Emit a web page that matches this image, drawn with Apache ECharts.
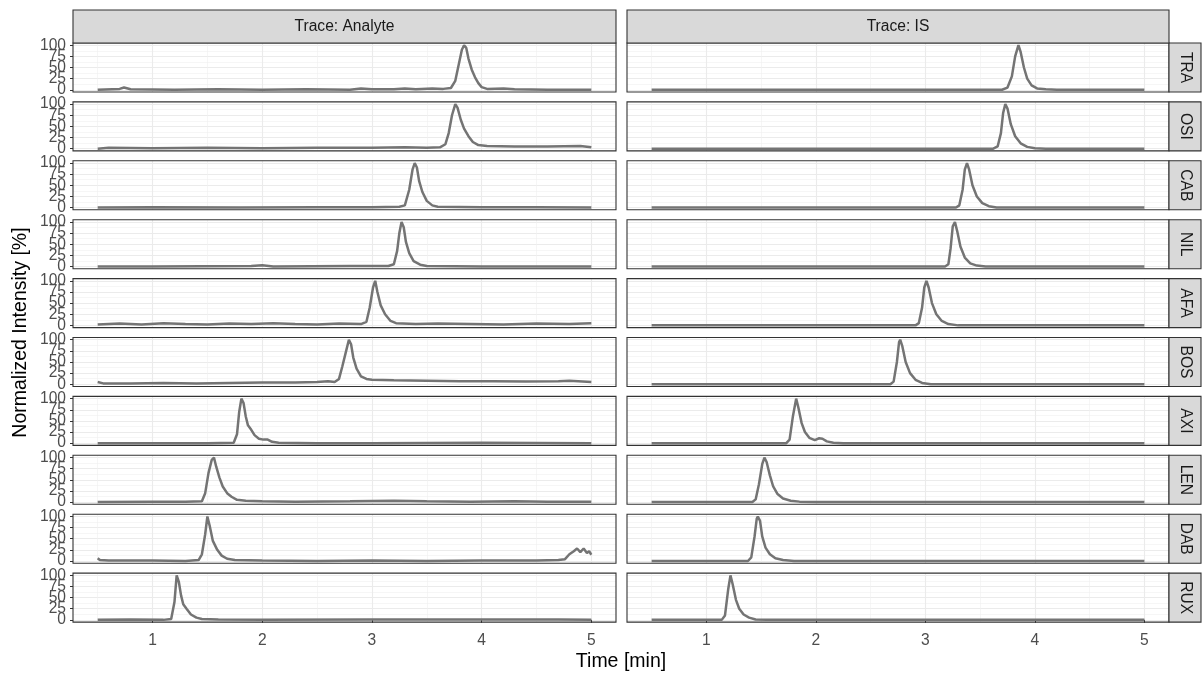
<!DOCTYPE html>
<html>
<head>
<meta charset="utf-8">
<title>Chromatograms</title>
<script src="https://cdn.jsdelivr.net/npm/echarts@6/dist/echarts.min.js"></script>
<style>
html, body { margin: 0; padding: 0; background: #fff; }
#main { width: 1203px; height: 675px; }
</style>
</head>
<body>
<div id="main"></div>
<script>
// facet labels
var COMPOUNDS = ['TRA', 'OSI', 'CAB', 'NIL', 'AFA', 'BOS', 'AXI', 'LEN', 'DAB', 'RUX'];
var TRACES = ['Analyte', 'IS'];

// axis ticks
var X_TICKS = [1, 2, 3, 4, 5];
var X_MINOR = [0.5, 1.5, 2.5, 3.5, 4.5];
var Y_TICKS = [0, 25, 50, 75, 100];
var Y_MINOR = [12.5, 37.5, 62.5, 87.5];
// y labels overlap each other, so they are split over two stacked axes
var Y_LABELS_A = [0, 50, 100];
var Y_LABELS_B = [25, 75];

// [time (min), normalized intensity (%)]
var TRA_analyte = [[0.5,0],[0.7,2],[0.74,5],[0.8,1],[1.2,0],[1.6,1],[2.0,0],[2.4,1],[2.8,0],[2.9,3],[3.0,1],[3.2,1],[3.3,3],[3.4,1],[3.55,3],[3.65,2],[3.72,4],[3.76,20],[3.79,55],[3.82,90],[3.84,100],[3.86,94],[3.88,70],[3.91,45],[3.94,28],[3.97,15],[4.0,6],[4.05,2],[4.2,3],[4.3,1],[4.6,0],[5.0,0]];
var OSI_analyte = [[0.5,0],[0.6,2],[1.0,1],[1.5,2],[2.0,1],[2.5,2],[3.0,2],[3.3,3],[3.5,2],[3.62,3],[3.67,10],[3.7,35],[3.73,75],[3.76,100],[3.78,92],[3.81,65],[3.84,45],[3.88,28],[3.92,15],[3.97,8],[4.05,6],[4.3,5],[4.6,5],[4.9,6],[5.0,3]];
var CAB_analyte = [[0.5,0],[1.0,1],[1.8,0],[2.5,1],[3.0,1],[3.25,2],[3.3,5],[3.34,40],[3.37,85],[3.39,100],[3.41,90],[3.43,60],[3.46,35],[3.5,15],[3.55,5],[3.6,2],[4.0,1],[4.5,1],[5.0,0]];
var NIL_analyte = [[0.5,0],[1.0,0],[1.9,1],[2.0,3],[2.1,0],[2.8,1],[3.15,1],[3.2,5],[3.23,35],[3.25,75],[3.27,100],[3.29,88],[3.31,55],[3.34,30],[3.38,12],[3.44,4],[3.5,1],[4.0,0],[5.0,0]];
var AFA_analyte = [[0.5,2],[0.7,4],[0.9,2],[1.1,5],[1.3,3],[1.5,2],[1.7,4],[1.9,3],[2.1,5],[2.3,3],[2.5,2],[2.7,4],[2.9,3],[2.95,8],[2.98,40],[3.01,85],[3.03,100],[3.05,75],[3.08,45],[3.12,25],[3.17,10],[3.22,5],[3.4,3],[3.6,4],[3.9,3],[4.2,2],[4.5,4],[4.8,3],[5.0,5]];
var BOS_analyte = [[0.5,5],[0.55,2],[0.8,2],[1.1,3],[1.4,2],[1.7,3],[2.0,4],[2.3,4],[2.5,5],[2.6,7],[2.66,5],[2.7,12],[2.73,40],[2.76,70],[2.79,100],[2.81,90],[2.83,60],[2.86,35],[2.9,18],[2.95,12],[3.0,10],[3.2,9],[3.5,8],[3.8,7],[4.1,7],[4.4,6],[4.7,7],[4.8,8],[5.0,5]];
var AXI_analyte = [[0.5,0],[1.0,0],[1.5,0],[1.74,1],[1.77,20],[1.79,70],[1.81,100],[1.83,90],[1.85,60],[1.87,40],[1.9,30],[1.93,18],[1.97,10],[2.01,8],[2.05,8],[2.09,3],[2.15,1],[2.5,0],[3.0,0],[4.0,1],[5.0,0]];
var LEN_analyte = [[0.5,0],[1.0,1],[1.3,1],[1.45,2],[1.48,20],[1.51,65],[1.54,95],[1.56,100],[1.58,80],[1.61,55],[1.64,35],[1.68,20],[1.72,12],[1.77,5],[1.85,3],[2.0,2],[2.3,1],[2.8,2],[3.2,3],[3.5,2],[3.9,1],[4.3,2],[4.6,1],[5.0,1]];
var DAB_analyte = [[0.5,6],[0.52,2],[0.6,1],[1.0,1],[1.3,0],[1.42,2],[1.45,15],[1.48,60],[1.5,100],[1.52,80],[1.55,45],[1.59,25],[1.63,12],[1.68,5],[1.75,2],[2.0,1],[2.5,0],[3.0,1],[3.5,0],[4.0,1],[4.5,1],[4.7,2],[4.76,4],[4.8,15],[4.84,22],[4.87,28],[4.9,20],[4.93,28],[4.96,18],[4.98,22],[5.0,14]];
var RUX_analyte = [[0.5,0],[0.8,1],[1.1,0],[1.17,2],[1.2,40],[1.22,100],[1.24,85],[1.26,55],[1.28,35],[1.31,25],[1.35,12],[1.4,5],[1.45,2],[1.6,1],[2.0,0],[3.0,1],[4.0,1],[4.7,1],[5.0,0]];

var TRA_IS = [[0.5,0],[3.7,0],[3.75,5],[3.79,30],[3.82,75],[3.85,100],[3.87,85],[3.9,50],[3.93,25],[3.97,10],[4.02,3],[4.1,1],[4.2,0],[5.0,0]];
var OSI_IS = [[0.5,0],[3.62,0],[3.66,5],[3.69,35],[3.71,80],[3.73,100],[3.75,90],[3.78,55],[3.82,28],[3.87,12],[3.93,4],[4.0,1],[4.1,0],[5.0,0]];
var CAB_IS = [[0.5,0],[3.28,0],[3.31,5],[3.34,40],[3.36,85],[3.38,100],[3.4,85],[3.43,50],[3.47,25],[3.52,10],[3.58,3],[3.65,0],[5.0,0]];
var NIL_IS = [[0.5,0],[3.18,0],[3.21,5],[3.23,40],[3.25,90],[3.27,100],[3.29,80],[3.32,45],[3.36,20],[3.41,7],[3.47,2],[3.55,0],[5.0,0]];
var AFA_IS = [[0.5,0],[2.91,0],[2.94,5],[2.97,40],[2.99,85],[3.01,100],[3.03,85],[3.06,50],[3.1,25],[3.15,10],[3.21,3],[3.3,0],[5.0,0]];
var BOS_IS = [[0.5,0],[2.68,0],[2.71,6],[2.74,50],[2.76,95],[2.77,100],[2.79,85],[2.82,50],[2.86,25],[2.91,10],[2.97,3],[3.05,0],[5.0,0]];
var AXI_IS = [[0.5,0],[1.73,0],[1.76,8],[1.79,60],[1.82,100],[1.84,80],[1.87,45],[1.9,25],[1.94,12],[1.99,7],[2.03,11],[2.06,10],[2.1,4],[2.16,1],[2.25,0],[5.0,0]];
var LEN_IS = [[0.5,0],[1.42,0],[1.45,6],[1.48,40],[1.51,85],[1.53,100],[1.55,90],[1.58,60],[1.61,35],[1.65,18],[1.7,8],[1.77,3],[1.85,1],[2.0,0],[5.0,0]];
var DAB_IS = [[0.5,0],[1.38,0],[1.41,8],[1.44,55],[1.46,95],[1.47,100],[1.49,90],[1.51,55],[1.54,30],[1.58,15],[1.63,6],[1.7,2],[1.8,0],[5.0,0]];
var RUX_IS = [[0.5,0],[1.14,0],[1.17,10],[1.2,70],[1.22,100],[1.24,80],[1.27,45],[1.3,25],[1.34,12],[1.39,5],[1.45,1],[1.55,0],[5.0,0]];

var ANALYTE = [TRA_analyte, OSI_analyte, CAB_analyte, NIL_analyte, AFA_analyte, BOS_analyte, AXI_analyte, LEN_analyte, DAB_analyte, RUX_analyte];
var IS = [TRA_IS, OSI_IS, CAB_IS, NIL_IS, AFA_IS, BOS_IS, AXI_IS, LEN_IS, DAB_IS, RUX_IS];

// layout (ggplot facet_grid look)
var FONT = "'Liberation Sans', Arial, sans-serif";
var X_MIN = 0.275, X_MAX = 5.225;   // 0.5..5 plus 5% expansion
var Y_MIN = -5, Y_MAX = 105;
var COL_LEFT = [73, 627];
var COL_W = [543, 542];
var TOP = 43, ROW_STEP = 58.9, ROW_H = 49;
var STRIP_TOP = 10, STRIP_W = 32;

function txt(x, y, s, size, color, rot) {
    return {
        type: 'text', z: 101, x: x, y: y, rotation: rot || 0,
        style: { text: s, fill: color, font: size + 'px ' + FONT, textAlign: 'center', textVerticalAlign: 'middle' }
    };
}

function buildOption(splitLabels) {
    var grids = [], xAxes = [], yAxes = [], series = [], graphics = [];

    for (var r = 0; r < COMPOUNDS.length; r++) {
        for (var c = 0; c < 2; c++) {
            var gi = r * 2 + c;
            var top = TOP + r * ROW_STEP;
            var bottomRow = (r === COMPOUNDS.length - 1);
            var yLab = { color: '#4D4D4D', fontSize: 15.6, fontFamily: FONT, margin: 7 };
            grids.push({ left: COL_LEFT[c], top: top, width: COL_W[c], height: ROW_H, show: false });

            // major axes carry the data
            xAxes.push({
                gridIndex: gi, type: 'value', min: X_MIN, max: X_MAX, position: 'bottom',
                axisLine: { show: false },
                axisTick: { show: bottomRow, customValues: X_TICKS, length: 3, lineStyle: { color: '#333', width: 1 } },
                axisLabel: { show: bottomRow, customValues: X_TICKS, color: '#4D4D4D', fontSize: 15.6, fontFamily: FONT, margin: 11 },
                splitLine: { show: true, lineStyle: { color: '#EBEBEB', width: 1.1 } }
            });
            // minor grid only
            xAxes.push({
                gridIndex: gi, type: 'value', min: X_MIN, max: X_MAX, position: 'top',
                axisLine: { show: false }, axisTick: { show: false, customValues: X_MINOR },
                axisLabel: { show: false }, splitLine: { show: true, lineStyle: { color: '#F0F0F0', width: 0.6 } }
            });
            yAxes.push({
                gridIndex: gi, type: 'value', min: Y_MIN, max: Y_MAX, position: 'left',
                axisLine: { show: false },
                axisTick: { show: c === 0, customValues: Y_TICKS, length: 3, lineStyle: { color: '#333', width: 1 } },
                axisLabel: echarts.util.extend({ show: c === 0, customValues: splitLabels ? Y_LABELS_A : Y_TICKS }, yLab),
                splitLine: { show: true, lineStyle: { color: '#EBEBEB', width: 1.1 } }
            });
            // minor grid + the in-between labels
            yAxes.push({
                gridIndex: gi, type: 'value', min: Y_MIN, max: Y_MAX, position: 'left',
                axisLine: { show: false }, axisTick: { show: false, customValues: Y_MINOR },
                axisLabel: echarts.util.extend({ show: splitLabels && c === 0, customValues: Y_LABELS_B }, yLab),
                splitLine: { show: true, lineStyle: { color: '#F0F0F0', width: 0.6 } }
            });

            series.push({
                type: 'line',
                xAxisIndex: gi * 2, yAxisIndex: gi * 2,
                data: c === 0 ? ANALYTE[r] : IS[r],
                showSymbol: false, symbol: 'none',
                lineStyle: { color: '#747474', width: 2.5 },
                z: 5
            });

            // panel border
            graphics.push({
                type: 'rect', z: 100,
                shape: { x: COL_LEFT[c], y: top, width: COL_W[c], height: ROW_H },
                style: { fill: 'none', stroke: '#333333', lineWidth: 1.1 }
            });
        }

        // row strip on the right
        var rTop = TOP + r * ROW_STEP;
        var sx = COL_LEFT[1] + COL_W[1];
        graphics.push({
            type: 'rect', z: 100,
            shape: { x: sx, y: rTop, width: STRIP_W, height: ROW_H },
            style: { fill: '#D9D9D9', stroke: '#333333', lineWidth: 1.1 }
        });
        graphics.push(txt(sx + STRIP_W / 2, rTop + ROW_H / 2, COMPOUNDS[r], 15.6, '#1A1A1A', -Math.PI / 2));
    }

    // column strips on top
    for (var k = 0; k < 2; k++) {
        graphics.push({
            type: 'rect', z: 100,
            shape: { x: COL_LEFT[k], y: STRIP_TOP, width: COL_W[k], height: TOP - STRIP_TOP },
            style: { fill: '#D9D9D9', stroke: '#333333', lineWidth: 1.1 }
        });
        graphics.push(txt(COL_LEFT[k] + COL_W[k] / 2, (STRIP_TOP + TOP) / 2 + 0.5, 'Trace: ' + TRACES[k], 15.6, '#1A1A1A'));
    }

    // axis titles
    graphics.push(txt((COL_LEFT[0] + COL_LEFT[1] + COL_W[1]) / 2, 662, 'Time [min]', 19.5, '#000'));
    graphics.push(txt(21, TOP + (9 * ROW_STEP + ROW_H) / 2, 'Normalized Intensity [%]', 19.5, '#000', Math.PI / 2));

    return {
        animation: false,
        backgroundColor: '#fff',
        grid: grids,
        xAxis: xAxes,
        yAxis: yAxes,
        series: series,
        graphic: { elements: graphics }
    };
}

var dom = document.getElementById('main');
var chart = echarts.init(dom);
try {
    chart.setOption(buildOption(true));
} catch (e) {
    // fall back to a single label axis if the stacked labels fail
    chart.dispose();
    chart = echarts.init(dom);
    chart.setOption(buildOption(false));
}
</script>
</body>
</html>
